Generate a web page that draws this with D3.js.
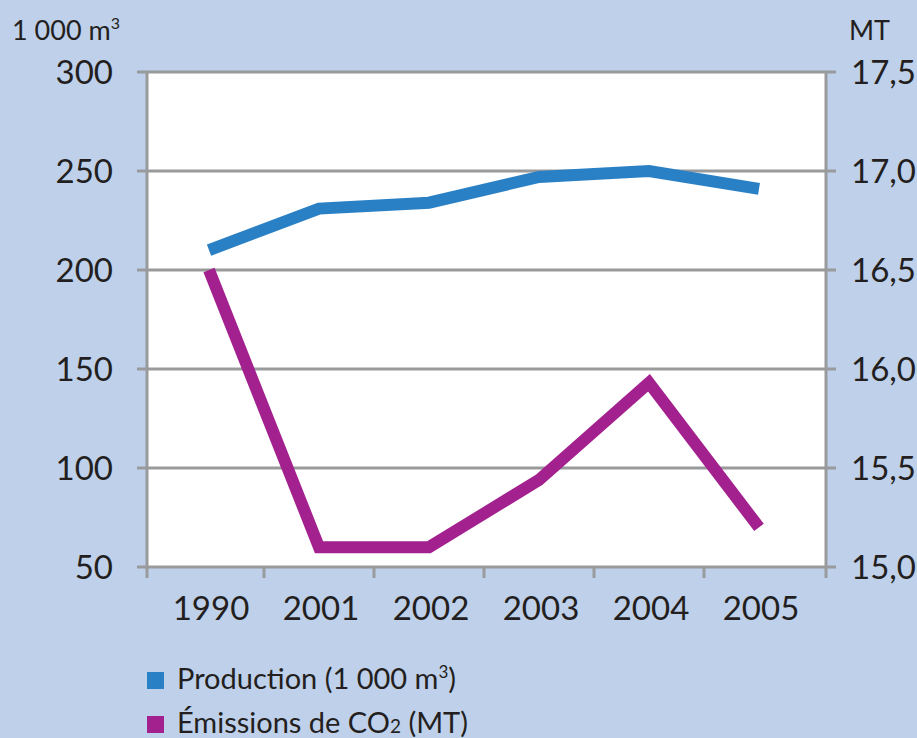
<!DOCTYPE html>
<html>
<head>
<meta charset="utf-8">
<script src="https://cdn.jsdelivr.net/npm/d3@7"></script>
<style>
  body { margin: 0; background: #bfd0ea; }
  svg { display: block; font-family: Lato, "Open Sans", sans-serif; }
</style>
</head>
<body>
<svg width="917" height="738"></svg>
<script>
"use strict";

// données
const years = ["1990", "2001", "2002", "2003", "2004", "2005"];
const production = [210, 231, 234, 247, 250, 241]; // 1 000 m3, axe gauche
const emissions = [16.5, 15.1, 15.1, 15.44, 15.93, 15.2]; // MT, axe droit
const leftTicks = [50, 100, 150, 200, 250, 300];
const rightTicks = [15.0, 15.5, 16.0, 16.5, 17.0, 17.5];

const svg = d3.select("svg");
const plotLeft = 147, plotRight = 826, plotTop = 72, plotBottom = 567;
const gridColor = "#999a9c";
const textColor = "#231f20";

// une position par année, les traits d'axe tombent entre deux années
const x = d3.scalePoint().domain(years).range([209, 759]);
const yL = d3.scaleLinear().domain([50, 300]).range([plotBottom, plotTop]);
const yR = d3.scaleLinear().domain([15, 17.5]).range([plotBottom, plotTop]);

svg.append("rect")
  .attr("x", plotLeft).attr("y", plotTop)
  .attr("width", plotRight - plotLeft).attr("height", plotBottom - plotTop)
  .attr("fill", "#fff");

// grille horizontale
svg.append("g")
  .selectAll("line")
  .data(leftTicks)
  .join("line")
  .attr("x1", plotLeft - 10).attr("x2", plotRight + 10)
  .attr("y1", (d) => yL(d)).attr("y2", (d) => yL(d))
  .attr("stroke", gridColor).attr("stroke-width", 3);

// axes verticaux
[plotLeft, plotRight].forEach((px) => {
  svg.append("line")
    .attr("x1", px).attr("x2", px)
    .attr("y1", plotTop).attr("y2", plotBottom + 11)
    .attr("stroke", gridColor).attr("stroke-width", 3);
});

// traits de l'axe x : entre les années
const xTicks = years.slice(1).map((d, i) => (x(years[i]) + x(d)) / 2);
svg.append("g")
  .selectAll("line")
  .data(xTicks)
  .join("line")
  .attr("x1", (d) => d).attr("x2", (d) => d)
  .attr("y1", plotBottom).attr("y2", plotBottom + 11)
  .attr("stroke", gridColor).attr("stroke-width", 3);

// étiquettes
svg.append("g")
  .selectAll("text")
  .data(leftTicks)
  .join("text")
  .attr("x", 113).attr("y", (d) => yL(d))
  .attr("dy", "0.36em")
  .attr("text-anchor", "end")
  .attr("font-size", 33)
  .attr("fill", textColor)
  .text((d) => d);

const fmt = (d) => d3.format(".1f")(d).replace(".", ",");
svg.append("g")
  .selectAll("text")
  .data(rightTicks)
  .join("text")
  .attr("x", 851).attr("y", (d) => yR(d))
  .attr("dy", "0.36em")
  .attr("font-size", 33)
  .attr("fill", textColor)
  .text(fmt);

svg.append("g")
  .selectAll("text")
  .data(years)
  .join("text")
  .attr("x", (d) => x(d) + 2).attr("y", 620)
  .attr("text-anchor", "middle")
  .attr("font-size", 33)
  .attr("fill", textColor)
  .text((d) => d);

const unitL = svg.append("text")
  .attr("x", 12).attr("y", 40)
  .attr("font-size", 27)
  .attr("fill", textColor);
unitL.append("tspan").text("1 000 m");
unitL.append("tspan").attr("font-size", 16).attr("dy", -11).text("3");

svg.append("text")
  .attr("x", 849).attr("y", 40)
  .attr("font-size", 27)
  .attr("fill", textColor)
  .text("MT");

// courbes
const lineL = d3.line().x((d, i) => x(years[i])).y((d) => yL(d));
const lineR = d3.line().x((d, i) => x(years[i])).y((d) => yR(d));

svg.append("path")
  .attr("d", lineL(production))
  .attr("fill", "none")
  .attr("stroke", "#2a80c5")
  .attr("stroke-width", 12)
  .attr("stroke-linejoin", "miter");

svg.append("path")
  .attr("d", lineR(emissions))
  .attr("fill", "none")
  .attr("stroke", "#a3218e")
  .attr("stroke-width", 12)
  .attr("stroke-linejoin", "miter");

// légende
const legend = [
  { color: "#2a80c5", y: 689 },
  { color: "#a3218e", y: 733 }
];
legend.forEach((l) => {
  svg.append("rect")
    .attr("x", 147).attr("y", l.y - 17)
    .attr("width", 17).attr("height", 17)
    .attr("fill", l.color);
});

const t1 = svg.append("text")
  .attr("x", 177).attr("y", 689)
  .attr("font-size", 29)
  .attr("fill", textColor);
t1.append("tspan").text("Production (1 000 m");
t1.append("tspan").attr("font-size", 17).attr("dy", -11).text("3");
t1.append("tspan").attr("dy", 11).text(")");

const t2 = svg.append("text")
  .attr("x", 177).attr("y", 733)
  .attr("font-size", 29)
  .attr("fill", textColor);
t2.append("tspan").text("Émissions de CO");
t2.append("tspan").attr("font-size", 19).text("2");
t2.append("tspan").text(" (MT)");
</script>
</body>
</html>
